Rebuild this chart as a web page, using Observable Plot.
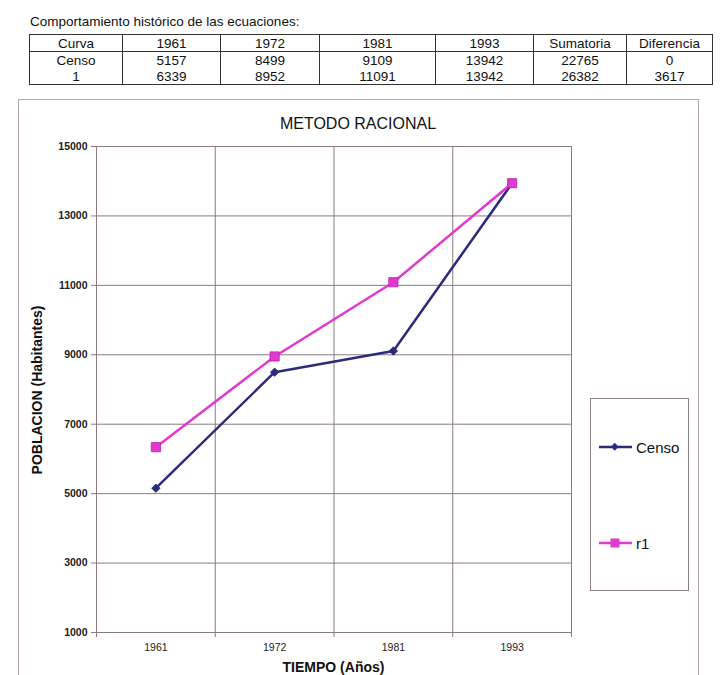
<!DOCTYPE html>
<html>
<head>
<meta charset="utf-8">
<script src="https://cdn.jsdelivr.net/npm/d3@7"></script>
<script src="https://cdn.jsdelivr.net/npm/@observablehq/plot@0.6"></script>
<style>
  html, body { margin: 0; padding: 0; background: #ffffff; }
  body { position: relative; width: 726px; height: 675px; overflow: hidden;
         font-family: "Liberation Sans", Arial, sans-serif; color: #111; }
  .abs { position: absolute; }
  #tbl { position: absolute; left: 29px; top: 34px; border-collapse: collapse; table-layout: fixed;
         font-size: 13.5px; color: #111; }
  #tbl td { border: 1.5px solid #333; text-align: center; padding: 0; line-height: 15px; }
  #tbl tr.hdr td { height: 16px; }
  #tbl tr.body td { border-top: none; border-bottom: none; height: 16px; }
  #tbl tr.body.last td { border-bottom: 1.5px solid #333; }
  #tbl tr.body.first td { border-top: 1.5px solid #333; }
</style>
</head>
<body>
<div class="abs" id="caption" style="left:30px; top:14px; font-size:13.5px;"></div>
<table id="tbl"></table>
<div class="abs" id="frame" style="left:18px; top:99px; width:679px; height:600px; border:1px solid #b3a4ad;"></div>
<div class="abs" id="chart" style="left:0; top:99px;"></div>
<div class="abs" id="title" style="left:18px; width:680px; top:115px; text-align:center; font-size:16px;"></div>
<div class="abs" id="ylabel" style="left:37px; top:391px; width:0; height:0;"></div>
<div class="abs" id="xlabel" style="left:96px; width:475px; top:659px; text-align:center; font-size:14px; font-weight:bold;"></div>
<div class="abs" id="legend" style="left:590px; top:398px; width:97px; height:191px; border:1px solid #8d7e87; background:#fff;"></div>
<script>
// ---------- data ----------
const captionText = "Comportamiento histórico de las ecuaciones:";
const tableHeader = ["Curva", "1961", "1972", "1981", "1993", "Sumatoria", "Diferencia"];
const years = ["1961", "1972", "1981", "1993"];
const rowLabels = ["Censo", "1"];
const censo = [5157, 8499, 9109, 13942];
const r1 = [6339, 8952, 11091, 13942];
const sumatoria = [22765, 26382];
const diferencia = [0, 3617];
const seriesNames = ["Censo", "r1"];
const yTicks = [1000, 3000, 5000, 7000, 9000, 11000, 13000, 15000];
const chartTitle = "METODO RACIONAL";
const xTitle = "TIEMPO (Años)";
const yTitle = "POBLACION (Habitantes)";

// ---------- styles ----------
const colNavy = "#2b2a7c";
const colMagenta = "#e13acf";
const gridColor = "#8a7a83";
const fontFam = "'Liberation Sans', Arial, sans-serif";
const colWidths = [93, 98, 99, 116, 98, 93, 86];

// ---------- table ----------
document.getElementById("caption").textContent = captionText;
const tbl = document.getElementById("tbl");
const cg = document.createElement("colgroup");
colWidths.forEach(w => { const c = document.createElement("col"); c.style.width = w + "px"; cg.appendChild(c); });
tbl.appendChild(cg);
const hr = document.createElement("tr"); hr.className = "hdr";
tableHeader.forEach(h => { const td = document.createElement("td"); td.textContent = h; hr.appendChild(td); });
tbl.appendChild(hr);
const rowValues = [censo, r1];
rowLabels.forEach((lab, k) => {
  const tr = document.createElement("tr");
  tr.className = "body" + (k === 0 ? " first" : "") + (k === rowLabels.length - 1 ? " last" : "");
  const cells = [lab, ...rowValues[k], sumatoria[k], diferencia[k]];
  cells.forEach(v => { const td = document.createElement("td"); td.textContent = v; tr.appendChild(td); });
  tbl.appendChild(tr);
});

// ---------- chart ----------
const data = [];
years.forEach((yr, i) => {
  data.push({i, year: yr, value: censo[i], series: seriesNames[0]});
  data.push({i, year: yr, value: r1[i], series: seriesNames[1]});
});
const bounds = d3.range(years.length + 1).map(k => k - 0.5);
const xMin = -0.5, xMax = years.length - 0.5;
const yLo = yTicks[0], yHi = yTicks[yTicks.length - 1];

const plot = Plot.plot({
  width: 726,
  height: 576,
  marginLeft: 96,
  marginRight: 155,
  marginTop: 47,
  marginBottom: 43,
  style: {fontFamily: fontFam, background: "transparent", overflow: "visible"},
  x: {domain: [xMin, xMax], axis: null},
  y: {domain: [yLo, yHi], axis: null},
  marks: [
    Plot.ruleY(yTicks, {y: d => d, x1: xMin, x2: xMax, stroke: gridColor, strokeWidth: 1, insetLeft: -5}),
    Plot.ruleX(bounds, {x: d => d, y1: yHi, y2: yLo, stroke: gridColor, strokeWidth: 1, insetBottom: -5}),
    Plot.text(yTicks, {x: xMin, y: d => d, text: d => String(d), textAnchor: "end", dx: -9, fontSize: 10.5, fontWeight: "bold", fill: "#222"}),
    Plot.text(years, {x: (d, i) => i, y: yLo, text: d => d, dy: 15, fontSize: 10.5, fill: "#222"}),
    Plot.line(data.filter(d => d.series === seriesNames[0]), {x: "i", y: "value", stroke: colNavy, strokeWidth: 2.5}),
    Plot.dot(data.filter(d => d.series === seriesNames[0]), {x: "i", y: "value", symbol: "diamond2", r: 3.8, fill: colNavy, stroke: colNavy, strokeWidth: 0.8}),
    Plot.line(data.filter(d => d.series === seriesNames[1]), {x: "i", y: "value", stroke: colMagenta, strokeWidth: 2.5}),
    Plot.dot(data.filter(d => d.series === seriesNames[1]), {x: "i", y: "value", symbol: "square", r: 5.2, fill: colMagenta, stroke: "#c020b0", strokeWidth: 0.8})
  ]
});
document.getElementById("chart").appendChild(plot);

// ---------- titles ----------
document.getElementById("title").textContent = chartTitle;
document.getElementById("xlabel").textContent = xTitle;
const yl = document.getElementById("ylabel");
yl.innerHTML = `<div style="position:absolute; left:-150px; top:-9px; width:300px; text-align:center; font-size:14px; font-weight:bold; transform:rotate(-90deg); white-space:nowrap;">${yTitle}</div>`;

// ---------- legend ----------
const legend = document.getElementById("legend");
const legendItems = [
  {name: seriesNames[0], color: colNavy, top: 48, marker: `<rect x="13" y="3" width="5.5" height="5.5" transform="rotate(45 15.75 5.75)" fill="${colNavy}"/>`},
  {name: seriesNames[1], color: colMagenta, top: 144, marker: `<rect x="11.5" y="1.5" width="9" height="9" fill="${colMagenta}"/>`}
];
legendItems.forEach(it => {
  const row = document.createElement("div");
  row.style.cssText = `position:absolute; left:8px; top:${it.top - 9}px; height:18px; display:flex; align-items:center; white-space:nowrap;`;
  row.innerHTML = `<svg width="34" height="12" style="display:block"><line x1="0" y1="6" x2="33" y2="6" stroke="${it.color}" stroke-width="2.5"/>${it.marker}</svg><span style="font-size:15px; margin-left:3px;">${it.name}</span>`;
  legend.appendChild(row);
});
</script>
</body>
</html>
